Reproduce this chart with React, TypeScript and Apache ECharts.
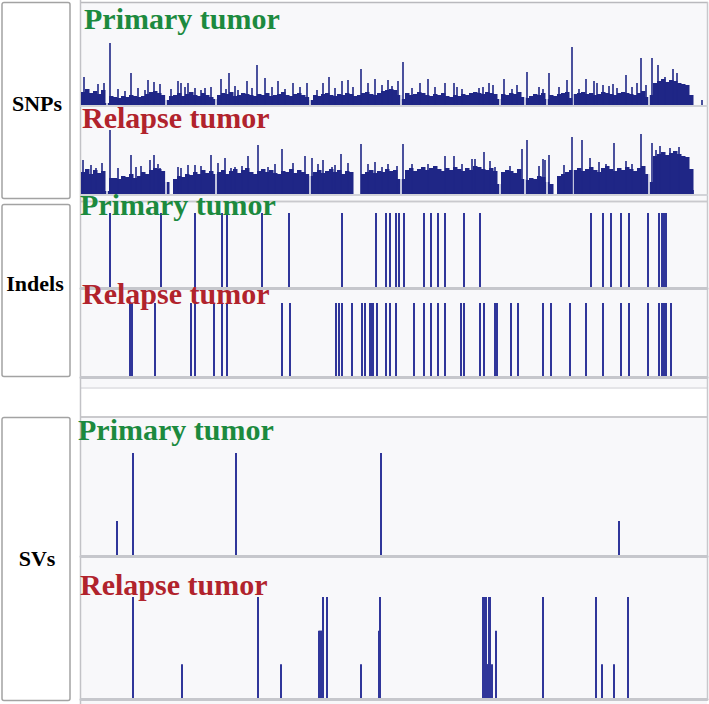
import React, { useEffect, useRef } from "react";
import * as echarts from "echarts";

// ---------- data (genomic position units along the browser axis) ----------
const POS_MAX = 626;
const SNP_BIN = 4;

const variantTypes = ["SNPs", "Indels", "SVs"];
const trackTitles = ["Primary tumor", "Relapse tumor"];

// SNP density per bin (bin i starts at i * SNP_BIN)
const primarySnpBins = [
  13, 16, 12, 14, 11, 15, 2, 9,
  8, 7, 9, 8, 10, 9, 8, 9, 11, 13, 14, 12, 10, 5,
  9, 10, 12, 9, 11, 13, 10, 9, 12, 10, 8, 6,
  10, 12, 11, 13, 9, 10, 12, 11, 10, 9, 11, 10, 12, 9, 10, 11, 13, 10, 9, 11, 12, 10, 8, 5,
  10, 9, 11, 12, 10, 9, 11, 10, 12, 11, 9, 10, 12, 13, 11, 10, 12, 14, 15, 16, 15, 10, 6,
  12, 10, 11, 13, 12, 10, 9, 11, 10, 12, 9, 8, 10, 9, 11, 10, 12, 13, 12, 11, 13, 12, 11, 6,
  11, 10, 12, 11, 13, 8, 7,
  9, 11, 10, 12, 6,
  10, 9, 11, 12, 13, 7,
  11, 12, 13, 11, 12, 10, 11, 13, 12, 11, 10, 12, 13, 12, 11, 10, 12,
  14, 8,
  10, 22, 24, 26, 23, 25, 24, 22, 21, 20, 10,
];

const relapseSnpBins = [
  22, 25, 20, 24, 21, 23, 3, 16,
  16, 15, 18, 17, 20, 16, 18, 22, 20, 24, 26, 25, 23, 12, 0,
  15, 18, 17, 20, 19, 22, 20, 24, 21, 23, 20,
  22, 24, 20, 23, 25, 21, 24, 26, 22, 20, 23, 25, 22, 24, 21, 20, 23, 22, 25, 21, 24, 22, 20, 18,
  22, 24, 21, 23, 25, 22, 24, 20, 23, 22, 0, 0, 20,
  22, 24, 21, 23, 22, 25, 23, 24, 15, 15,
  24, 26, 23, 25, 27, 24, 26, 28, 25, 23, 26, 24, 27, 25, 23, 26, 24, 28, 27, 25, 24, 26, 23, 10,
  22, 24, 23, 21, 25, 15,
  14, 16, 15, 18, 17, 12, 10, 0,
  18, 20, 22, 24,
  24, 26, 23, 25, 27, 24, 22, 26, 28, 25, 23, 26, 24, 27, 25, 23, 26,
  28, 20, 12,
  38, 40, 42, 39, 41, 43, 40, 38, 37, 25,
];

// isolated SNP peaks [position, height]
const primarySnpPeaks = [
  [3, 28], [17, 21], [23, 22], [29, 62], [50, 32], [67, 25], [73, 23], [79, 21],
  [97, 24], [100, 22], [107, 22], [124, 17], [140, 26], [148, 32], [166, 24],
  [176, 40], [184, 27], [197, 24], [212, 22], [226, 22], [242, 22], [248, 28],
  [261, 24], [267, 25], [280, 36], [287, 22], [294, 26], [301, 20], [307, 25],
  [317, 24], [322, 43], [339, 22], [347, 26], [364, 22], [373, 22], [376, 18],
  [402, 18], [408, 22], [412, 20], [423, 26], [436, 20], [446, 33], [458, 18],
  [462, 16], [468, 32], [486, 25], [491, 58], [505, 26], [513, 24], [516, 22],
  [522, 20], [532, 21], [545, 30], [556, 22], [560, 47], [571, 47], [577, 40],
  [584, 28], [592, 36], [596, 32], [621, 5],
  [37, 16], [44, 14], [57, 17], [64, 15], [90, 16], [104, 18], [114, 17],
  [120, 15], [130, 18], [145, 16], [154, 19], [157, 15], [171, 17], [191, 18],
  [204, 16], [219, 18], [236, 15], [254, 17], [272, 18], [311, 19], [331, 17],
  [354, 18], [381, 16], [398, 17], [431, 16], [478, 18], [498, 16], [528, 19],
  [536, 17], [551, 18], [565, 20],
];

const relapseSnpPeaks = [
  [2, 34], [10, 29], [15, 26], [21, 31], [29, 64], [50, 39], [60, 28], [69, 34],
  [73, 39], [79, 26], [97, 27], [107, 29], [114, 29], [130, 39], [137, 31],
  [144, 36], [150, 26], [167, 38], [177, 49], [187, 27], [201, 45], [224, 38],
  [231, 36], [242, 34], [251, 27], [260, 40], [267, 31], [280, 50], [287, 30],
  [294, 32], [301, 27], [316, 28], [322, 50], [347, 30], [364, 38], [373, 38],
  [391, 35], [394, 35], [403, 42], [409, 33], [414, 27], [429, 28], [441, 45],
  [446, 54], [462, 35], [464, 34], [468, 39], [483, 29], [491, 57], [501, 54],
  [509, 36], [533, 51], [545, 33], [560, 60], [571, 51], [575, 44], [579, 48],
  [589, 46], [598, 47], [612, 4],
  [37, 26], [55, 27], [77, 30], [100, 26], [120, 28], [154, 27], [161, 28],
  [194, 30], [212, 31], [237, 30], [254, 29], [307, 30], [331, 30], [381, 30],
  [458, 28], [518, 32], [525, 30], [551, 30],
];

// chromosome boundaries
const chromBoundaries = [26, 85, 135, 229, 320, 419, 444, 466, 492, 568];

// indel positions
const primaryIndels = [
  29, 80, 114, 141, 146, 181, 208, 261, 295, 305, 309, 315, 318, 323, 343, 350,
  357, 364, 383, 399, 510, 522, 530, 540, 548, 567, 578, 581, 583, 585,
];
const relapseIndels = [
  49, 51, 74, 110, 114, 133, 141, 146, 201, 209, 255, 258, 261, 271, 281, 284,
  289, 291, 292, 296, 305, 309, 315, 333, 343, 350, 357, 364, 380, 383, 399, 403,
  414, 416, 430, 437, 462, 470, 489, 505, 522, 540, 548, 567, 578, 581, 583, 585, 590,
];

// structural variants [position, support level]
const primarySVs = [
  [36, 1], [52, 3], [155, 3], [300, 3], [538, 1],
];
const relapseSVs = [
  [52, 3], [101, 1], [177, 3], [200, 1], [238, 2], [239, 2], [240, 2], [241, 2],
  [242, 3], [246, 3], [280, 1], [298, 2], [299, 3], [402, 3], [403, 3], [404, 3],
  [405, 3], [406, 1], [407, 1], [408, 3], [409, 3], [411, 1], [415, 2], [462, 3],
  [515, 3], [521, 1], [533, 1], [547, 3],
];

// ---------- style ----------
const NAVY = "#1f2686";
const LINE_BLUE = "#30369a";
const BG = "#f8f8fa";
const GREEN = "#1c8a3e";
const RED = "#b1232c";
const TITLE_FONT = 'bold 30px "Liberation Serif", "Times New Roman", serif';
const LABEL_FONT = 'bold 22px "Liberation Serif", "Times New Roman", serif';

const grids = [
  { left: 81, right: 2, top: 41, height: 64 },
  { left: 81, right: 2, top: 130, height: 64 },
  { left: 81, right: 2, top: 213, height: 74 },
  { left: 81, right: 2, top: 303, height: 73 },
  { left: 81, right: 2, top: 453, height: 102 },
  { left: 81, right: 2, top: 597, height: 101 },
];
const yMax = [64, 64, 1, 1, 3, 3];

const binRender = (_p: any, api: any) => {
  const x0 = api.value(0);
  const h = api.value(1);
  const a = api.coord([x0, h]);
  const b = api.coord([x0 + SNP_BIN, 0]);
  return {
    type: "rect",
    shape: { x: a[0], y: a[1], width: b[0] - a[0] + 0.5, height: b[1] - a[1] },
    style: { fill: NAVY },
  };
};

const stickRender = (width: number, color: string) => (_p: any, api: any) => {
  const x0 = api.value(0);
  const h = api.value(1);
  const a = api.coord([x0, h]);
  const b = api.coord([x0, 0]);
  return {
    type: "rect",
    shape: { x: a[0] - width / 2, y: a[1], width, height: b[1] - a[1] },
    style: { fill: color },
  };
};

function custom(idx: number, data: any[], render: any, z: number) {
  return {
    type: "custom",
    xAxisIndex: idx,
    yAxisIndex: idx,
    data,
    renderItem: render,
    z,
    clip: false,
    silent: true,
  };
}

export default function App() {
  const ref = useRef<HTMLDivElement>(null);

  useEffect(() => {
    if (!ref.current) return;
    const chart = echarts.init(ref.current, undefined, { renderer: "svg" });

    const xAxes = grids.map((_, i) => ({
      type: "value",
      gridIndex: i,
      min: 0,
      max: POS_MAX,
      z: 3,
      offset: 1,
      axisLine: {
        show: true,
        onZero: false,
        lineStyle: { color: i < 2 ? "#d2d3d8" : "#c6c7cc", width: i < 2 ? 2 : 3 },
      },
      axisTick: { show: false },
      axisLabel: { show: false },
      splitLine: { show: false },
    }));
    const yAxes = grids.map((_, i) => ({
      type: "value",
      gridIndex: i,
      min: 0,
      max: yMax[i],
      show: false,
    }));

    const boundaryData = (m: number) => chromBoundaries.map((p) => [p, m]);

    const series = [
      custom(0, primarySnpBins.map((h, i) => [i * SNP_BIN, h]), binRender, 4),
      custom(0, boundaryData(30), stickRender(1.5, BG), 5),
      custom(0, primarySnpPeaks, stickRender(1.6, NAVY), 6),
      custom(1, relapseSnpBins.map((h, i) => [i * SNP_BIN, h]), binRender, 4),
      custom(1, boundaryData(45), stickRender(1.5, BG), 5),
      custom(1, relapseSnpPeaks, stickRender(1.6, NAVY), 6),
      custom(2, primaryIndels.map((p) => [p, 1]), stickRender(2, LINE_BLUE), 4),
      custom(3, relapseIndels.map((p) => [p, 1]), stickRender(2, LINE_BLUE), 4),
      custom(4, primarySVs, stickRender(2, LINE_BLUE), 4),
      custom(5, relapseSVs, stickRender(2, LINE_BLUE), 4),
    ];

    const titleText = (text: string, x: number, y: number, fill: string) => ({
      type: "text",
      x,
      y,
      z: 20,
      silent: true,
      style: {
        text,
        font: TITLE_FONT,
        fill,
        align: "left",
        verticalAlign: "middle",
        textAlign: "left",
        textVerticalAlign: "middle",
      },
    });
    const labelText = (text: string, x: number, y: number) => ({
      type: "text",
      x,
      y,
      z: 20,
      silent: true,
      style: {
        text,
        font: LABEL_FONT,
        fill: "#000",
        align: "center",
        verticalAlign: "middle",
        textAlign: "center",
        textVerticalAlign: "middle",
      },
    });
    const hline = (y: number, color: string, w: number) => ({
      type: "line",
      z: 2,
      silent: true,
      shape: { x1: 80, y1: y, x2: 708, y2: y },
      style: { stroke: color, lineWidth: w },
    });
    const box = (y: number, h: number) => ({
      type: "rect",
      z: 2,
      silent: true,
      shape: { x: 2, y, width: 68, height: h, r: 2 },
      style: { fill: "#ffffff", stroke: "#a3a3a3", lineWidth: 1.5 },
    });
    const bg = (y: number, h: number) => ({
      type: "rect",
      z: 0,
      silent: true,
      shape: { x: 81, y, width: 626, height: h },
      style: { fill: BG },
    });

    const graphic = [
      bg(3, 197),
      bg(203, 184),
      bg(418, 286),
      hline(2.5, "#b9b9bd", 1.5),
      hline(201.5, "#c9c9cd", 2),
      hline(388, "#dddde0", 1.5),
      hline(417, "#b9b9bd", 1.5),
      {
        type: "line",
        z: 2,
        silent: true,
        shape: { x1: 80.5, y1: 0, x2: 80.5, y2: 704 },
        style: { stroke: "#c2c2c6", lineWidth: 1.5 },
      },
      {
        type: "line",
        z: 2,
        silent: true,
        shape: { x1: 707.5, y1: 2, x2: 707.5, y2: 700 },
        style: { stroke: "#c8c8cc", lineWidth: 1.5 },
      },
      box(2.5, 196),
      box(204.5, 172),
      box(417.5, 283),
      labelText(variantTypes[0], 37, 103),
      labelText(variantTypes[1], 35, 283),
      labelText(variantTypes[2], 37, 558),
      titleText(trackTitles[0], 84, 18, GREEN),
      titleText(trackTitles[1], 82, 117, RED),
      titleText(trackTitles[0], 80, 204, GREEN),
      titleText(trackTitles[1], 82, 293, RED),
      titleText(trackTitles[0], 78, 429, GREEN),
      titleText(trackTitles[1], 80, 584, RED),
    ];

    chart.setOption({
      animation: false,
      backgroundColor: "#ffffff",
      grid: grids,
      xAxis: xAxes,
      yAxis: yAxes,
      series,
      graphic,
    });

    return () => chart.dispose();
  }, []);

  return (
    <div
      ref={ref}
      style={{ position: "absolute", left: 0, top: 0, width: 709, height: 704 }}
    />
  );
}
